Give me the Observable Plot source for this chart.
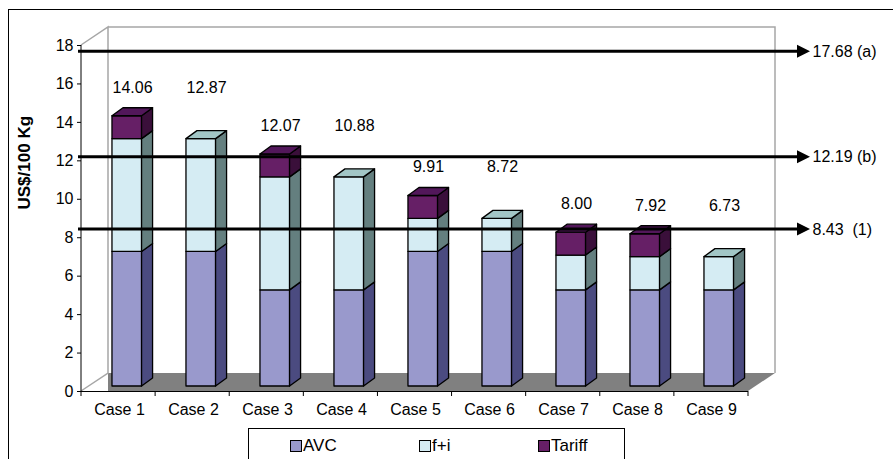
<!DOCTYPE html>
<html>
<head>
<meta charset="utf-8">
<script src="https://cdn.jsdelivr.net/npm/d3@7"></script>
<script src="https://cdn.jsdelivr.net/npm/@observablehq/plot@0.6"></script>
<style>
  body { margin: 0; background: #fff; }
  #wrap { position: relative; width: 893px; height: 459px; overflow: hidden; font-family: "Liberation Sans", Arial, sans-serif; }
  #frame { position: absolute; left: 8px; top: 9px; width: 920px; height: 520px; border: 1.5px solid #000; }
  #chart { position: absolute; left: 0; top: 0; }
  #legend { position: absolute; left: 248px; top: 428px; width: 375px; height: 60px; border: 1px solid #000; background: #fff; }
  .item { position: absolute; top: 8px; font-size: 17px; color: #000; display: flex; align-items: flex-end; line-height: 17px; }
  .sw { width: 10px; height: 10px; border: 1px solid #000; margin-right: 1px; margin-bottom: 2px; }
</style>
</head>
<body>
<div id="wrap">
  <div id="frame"></div>
  <div id="chart"></div>
  <div id="legend"></div>
</div>
<script>
// ---- data ----
const cases = ["Case 1","Case 2","Case 3","Case 4","Case 5","Case 6","Case 7","Case 8","Case 9"];
const seriesNames = ["AVC","f+i","Tariff"];
const avc    = [7.00, 7.00, 5.00, 5.00, 7.00, 7.00, 5.00, 5.00, 5.00];
const fi     = [5.87, 5.87, 5.88, 5.88, 1.72, 1.72, 1.81, 1.73, 1.73];
const tariff = [1.19, 0,    1.19, 0,    1.19, 0,    1.19, 1.19, 0   ];
const totalLabels = ["14.06","12.87","12.07","10.88","9.91","8.72","8.00","7.92","6.73"];
const refValues = [17.68, 12.19, 8.43];
const refLabels = ["17.68 (a)", "12.19 (b)", "8.43  (1)"];
const yTicks = [0, 2, 4, 6, 8, 10, 12, 14, 16, 18];
const yTitle = "US$/100 Kg";

// ---- styles ----
const frontColors = ["#9999cc", "#d5ecf3", "#661f66"];
const sideColors  = ["#4b4b80", "#647f7f", "#3a0f3a"];
const topColors   = ["#7474b0", "#a2c6c6", "#52175a"];
const FONT = "Liberation Sans, Arial, sans-serif";

// stacked rows
const seriesValues = [avc, fi, tariff];
const rows = [];
cases.forEach((c, i) => {
  let acc = 0;
  seriesValues.forEach((vals, s) => {
    const v = vals[i];
    if (v > 0) { rows.push({case: c, series: s, y1: acc, y2: acc + v}); acc += v; }
  });
});

// 3D projection constants (pixels)
const WALL_DX = 27, WALL_DY = -18;   // full depth of the chart box
const BAR_DX = 11, BAR_DY = -8;      // depth of each column
const BAR_SHIFT_Y = -5;              // columns sit slightly behind the front plane

function bandInfo(scales, dims) {
  const x = scales.x;
  const x0 = dims.marginLeft, x1 = dims.width - dims.marginRight;
  const bw = typeof x.bandwidth === "function" ? x.bandwidth() : (x1 - x0) / cases.length;
  return {x, x0, x1, bw};
}

// walls + floor
function walls(index, scales, values, dims) {
  const {x0, x1} = bandInfo(scales, dims);
  const y = scales.y;
  const yb = y(0), yt = y(18);
  const g = d3.create("svg:g");
  g.append("path")
    .attr("d", `M${x0 + WALL_DX},${yb + WALL_DY}L${x1 + WALL_DX},${yb + WALL_DY}L${x1},${yb}L${x0 + WALL_DX},${yb}Z`)
    .attr("fill", "#808080");
  g.append("path")
    .attr("d", `M${x0},${yb}L${x0 + WALL_DX},${yb + WALL_DY}L${x0 + WALL_DX},${yt + WALL_DY}L${x0},${yt}` +
               `M${x0 + WALL_DX},${yt + WALL_DY}L${x1 + WALL_DX},${yt + WALL_DY}L${x1 + WALL_DX},${yb + WALL_DY}`)
    .attr("fill", "none").attr("stroke", "#a6a6a6").attr("stroke-width", 1.5);
  // front y axis line
  g.append("line").attr("x1", x0).attr("x2", x0).attr("y1", yt).attr("y2", yb)
    .attr("stroke", "#000").attr("stroke-width", 1);
  // x tick marks at band boundaries
  for (let i = 0; i <= cases.length; i++) {
    const xx = x0 + (x1 - x0) * i / cases.length;
    g.append("line").attr("x1", xx).attr("x2", xx).attr("y1", yb).attr("y2", yb + 5)
      .attr("stroke", "#000").attr("stroke-width", 1);
  }
  return g.node();
}

// 3D columns
function bars3d(index, scales, values, dims) {
  const {x, bw} = bandInfo(scales, dims);
  const y = scales.y;
  const g = d3.create("svg:g").attr("stroke", "#000").attr("stroke-width", 1.3).attr("stroke-linejoin", "round");
  cases.forEach((c) => {
    const segs = rows.filter(r => r.case === c);
    const left = x(c) + 0.405 * bw;
    const w = 0.4 * bw;
    segs.forEach((r, k) => {
      const yt = y(r.y2) + BAR_SHIFT_Y, yb = y(r.y1) + BAR_SHIFT_Y;
      g.append("rect").attr("x", left).attr("y", yt).attr("width", w).attr("height", yb - yt)
        .attr("fill", frontColors[r.series]);
      g.append("path")
        .attr("d", `M${left + w},${yb}L${left + w},${yt}L${left + w + BAR_DX},${yt + BAR_DY}L${left + w + BAR_DX},${yb + BAR_DY}Z`)
        .attr("fill", sideColors[r.series]);
      if (k === segs.length - 1) {
        g.append("path")
          .attr("d", `M${left},${yt}L${left + BAR_DX},${yt + BAR_DY}L${left + w + BAR_DX},${yt + BAR_DY}L${left + w},${yt}Z`)
          .attr("fill", topColors[r.series]);
      }
    });
  });
  return g.node();
}

// reference arrows
function arrows(index, scales, values, dims) {
  const y = scales.y;
  const xs = dims.marginLeft - 3;
  const xe = dims.width - dims.marginRight + 62;
  const g = d3.create("svg:g");
  refValues.forEach(v => {
    const yy = y(v);
    g.append("line").attr("x1", xs).attr("x2", xe - 10).attr("y1", yy).attr("y2", yy)
      .attr("stroke", "#000").attr("stroke-width", 3);
    g.append("path").attr("d", `M${xe},${yy}L${xe - 13},${yy - 6.5}L${xe - 13},${yy + 6.5}Z`).attr("fill", "#000");
  });
  return g.node();
}

const plot = Plot.plot({
  width: 893,
  height: 459,
  marginLeft: 81,
  marginRight: 145,
  marginTop: 45,
  marginBottom: 68,
  style: {fontFamily: FONT, fontSize: "16px", background: "transparent", color: "#000", overflow: "visible"},
  x: {type: "band", domain: cases, padding: 0},
  y: {domain: [0, 18]},
  marks: [
    walls,
    bars3d,
    Plot.ruleY([0], {stroke: "#000", strokeWidth: 1}),
    Plot.axisY({ticks: yTicks, tickSize: 4, tickPadding: 4, tickFormat: d => String(d), fontSize: 16, label: null, stroke: "#000"}),
    Plot.axisX({tickSize: 0, tickPadding: 12, fontSize: 16, label: null}),
    arrows,
    Plot.text(refLabels, {y: (d, i) => refValues[i], text: d => d, frameAnchor: "right", textAnchor: "start", dx: 64, fontSize: 16}),
    Plot.text(cases, {x: d => d, y: (d, i) => avc[i] + fi[i] + 2.95, text: (d, i) => totalLabels[i], dx: 13, fontSize: 16}),
    Plot.text([yTitle], {frameAnchor: "left", dx: -57, dy: -9, rotate: -90, fontWeight: "bold", fontSize: 17, text: d => d})
  ]
});
document.getElementById("chart").appendChild(plot);

// legend
const legend = document.getElementById("legend");
const legendLefts = [41, 170, 289];
seriesNames.forEach((name, s) => {
  const it = document.createElement("div");
  it.className = "item";
  it.style.left = legendLefts[s] + "px";
  const sw = document.createElement("div");
  sw.className = "sw";
  sw.style.background = frontColors[s];
  const tx = document.createElement("span");
  tx.textContent = name;
  it.appendChild(sw); it.appendChild(tx);
  legend.appendChild(it);
});
</script>
</body>
</html>
